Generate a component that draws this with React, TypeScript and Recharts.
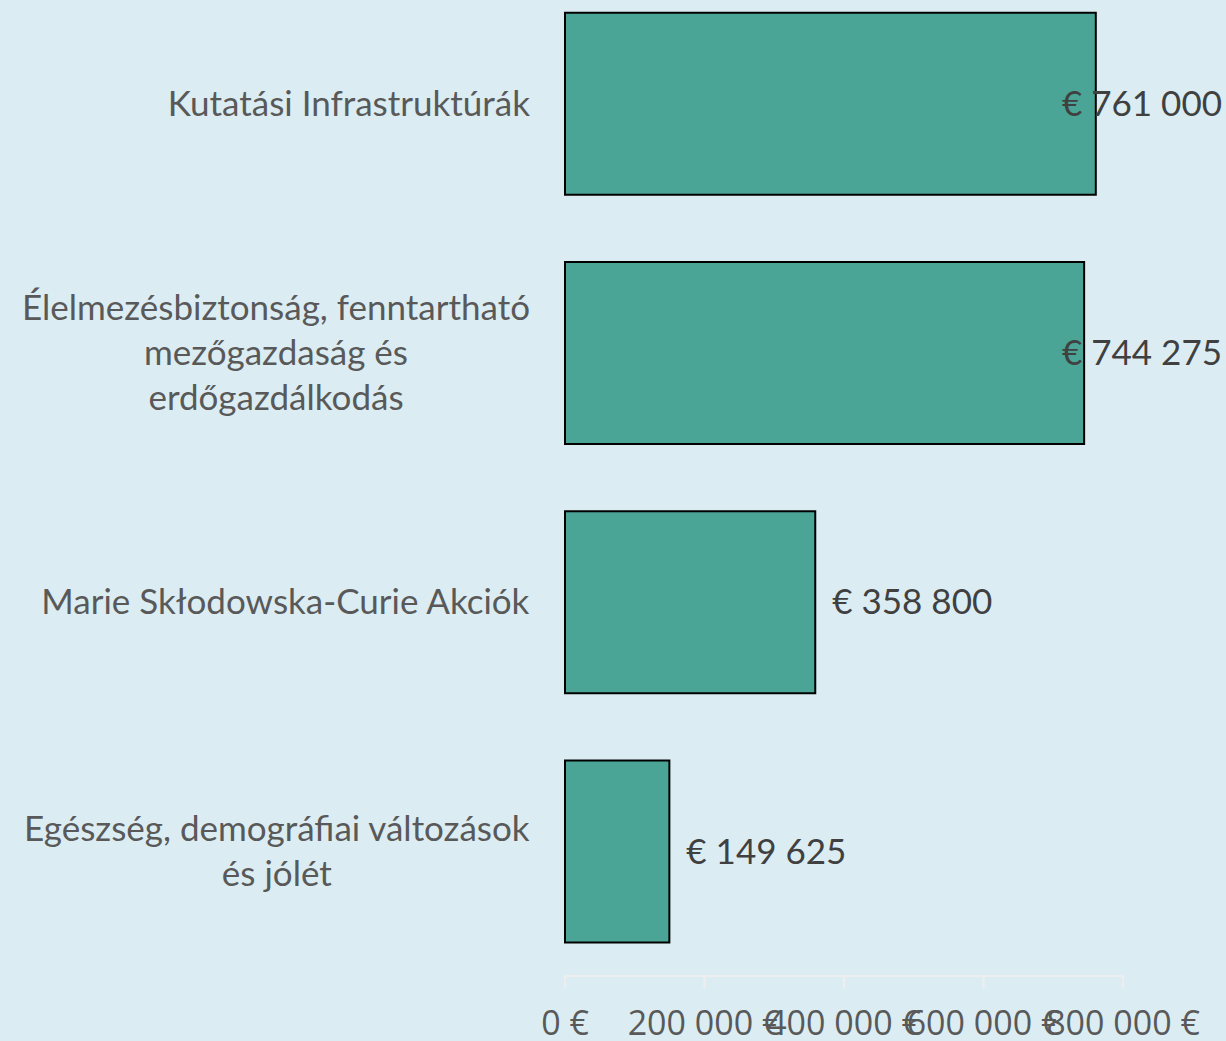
import { BarChart, Bar, XAxis, YAxis, LabelList } from "recharts";

const categories = [
  "Kutatási Infrastruktúrák",
  "Élelmezésbiztonság, fenntartható\nmezőgazdaság és\nerdőgazdálkodás",
  "Marie Skłodowska-Curie Akciók",
  "Egészség, demográfiai változások\nés jólét",
];
const amounts = [761000, 744275, 358800, 149625];
const xTicks = [0, 200000, 400000, 600000, 800000];

const data = categories.map((name, i) => ({ name, value: amounts[i] }));

const W = 1226;
const H = 1041;
const LABEL_FONT = "Lato, 'Open Sans', sans-serif";
const LABEL_SIZE = 35;

let ctx: CanvasRenderingContext2D | null = null;
function textWidth(s: string, font: string) {
  if (!ctx) ctx = document.createElement("canvas").getContext("2d");
  if (!ctx) return s.length * 15;
  ctx.font = font;
  return ctx.measureText(s).width;
}

const fmtNum = (v: number) =>
  String(v).replace(/\B(?=(\d{3})+(?!\d))/g, " ");

function CategoryTick(props: any) {
  const { y, payload } = props;
  const lines: string[] = String(payload.value).split("\n");
  const font = `${LABEL_SIZE}px ${LABEL_FONT}`;
  const maxW = Math.max(...lines.map((l) => textWidth(l, font)));
  const right = 530;
  const cx = right - maxW / 2;
  const lh = 45;
  const startY = y - ((lines.length - 1) * lh) / 2;
  return (
    <text
      textAnchor="middle"
      fill="#595959"
      fontFamily={LABEL_FONT}
      fontSize={LABEL_SIZE}
    >
      {lines.map((l, i) => (
        <tspan key={i} x={cx} y={startY + i * lh} dy="0.35em">
          {l}
        </tspan>
      ))}
    </text>
  );
}

function ValueLabel(props: any) {
  const { x, y, width, height, value } = props;
  const txt = "€ " + fmtNum(value);
  const font = `${LABEL_SIZE}px ${LABEL_FONT}`;
  const tw = textWidth(txt, font);
  let lx = x + width + 17;
  if (lx + tw > W - 4) lx = W - 4 - tw;
  return (
    <text
      x={lx}
      y={y + height / 2}
      dy="0.35em"
      fill="#404040"
      fontFamily={LABEL_FONT}
      fontSize={LABEL_SIZE}
    >
      {txt}
    </text>
  );
}

export default function App() {
  return (
    <div
      style={{
        position: "absolute",
        left: 0,
        top: 0,
        width: W,
        height: H,
        background: "#dbedf3",
        overflow: "hidden",
      }}
    >
      <BarChart
        width={W}
        height={H}
        data={data}
        layout="vertical"
        barCategoryGap="13.5%"
        margin={{ top: -21, right: 103, bottom: 0, left: 0 }}
      >
        <XAxis
          type="number"
          domain={[0, 800000]}
          ticks={xTicks}
          tickFormatter={(v: number) => fmtNum(v) + " €"}
          axisLine={{ stroke: "#eeeeee", strokeWidth: 2 }}
          tickLine={{ stroke: "#eeeeee", strokeWidth: 2 }}
          tickSize={12}
          tickMargin={23}
          height={65}
          interval={0}
          tick={{ fill: "#595959", fontSize: 34, fontFamily: "'Open Sans', sans-serif" }}
        />
        <YAxis
          type="category"
          dataKey="name"
          width={565}
          axisLine={false}
          tickLine={false}
          interval={0}
          tick={<CategoryTick />}
        />
        <Bar
          dataKey="value"
          fill="#4aa596"
          stroke="#000000"
          strokeWidth={2}
          isAnimationActive={false}
        >
          <LabelList dataKey="value" content={<ValueLabel />} />
        </Bar>
      </BarChart>
    </div>
  );
}
